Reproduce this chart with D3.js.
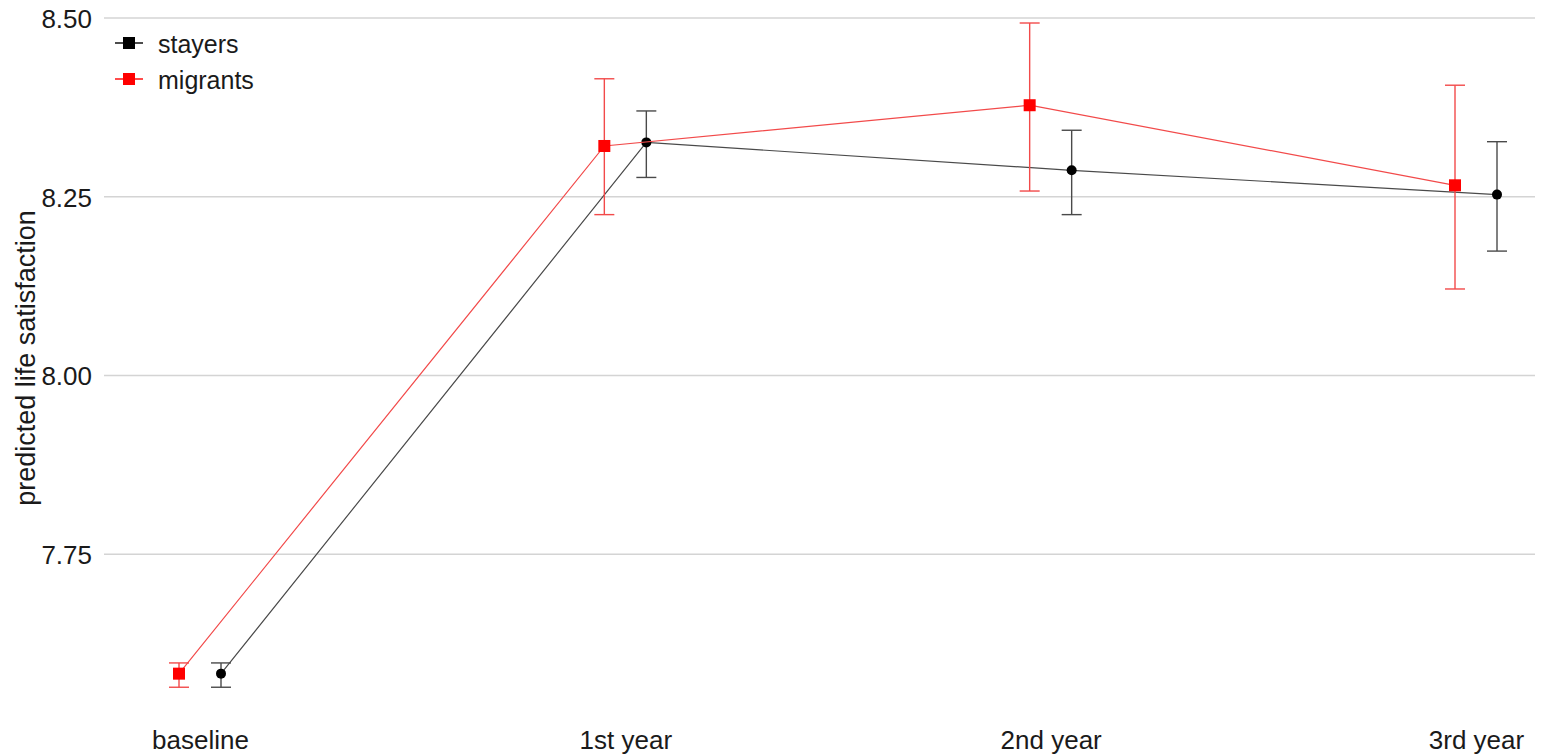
<!DOCTYPE html>
<html>
<head>
<meta charset="utf-8">
<script src="https://cdn.jsdelivr.net/npm/d3@7"></script>
<style>
  html, body { margin: 0; padding: 0; background: #fff; }
  svg { display: block; font-family: Arial, "Liberation Sans", sans-serif; }
</style>
</head>
<body>
<svg id="chart" width="1541" height="756"></svg>
<script>
// Waves of observation
const waves = ["baseline", "1st year", "2nd year", "3rd year"];

// Predicted life satisfaction with confidence bounds
const stayersFit   = [7.583, 8.326, 8.287, 8.253];
const stayersLow   = [7.564, 8.277, 8.225, 8.174];
const stayersHigh  = [7.598, 8.370, 8.343, 8.327];

const migrantsFit  = [7.583, 8.321, 8.378, 8.266];
const migrantsLow  = [7.564, 8.225, 8.258, 8.121];
const migrantsHigh = [7.598, 8.415, 8.493, 8.406];

const yTicks = [7.75, 8.00, 8.25, 8.50];

const groups = [
  { name: "stayers",  color: "#000000", lineColor: "#4a4a4a", shape: "circle", dodge: 21,
    fit: stayersFit, low: stayersLow, high: stayersHigh },
  { name: "migrants", color: "#ff0000", lineColor: "#f24a4a", shape: "square", dodge: -21,
    fit: migrantsFit, low: migrantsLow, high: migrantsHigh }
];

const textColor = "#1a1a1a";
const svg = d3.select("#chart");
const panel = { left: 104, right: 1535 };

const x = d3.scalePoint().domain(waves).range([200, 1476]);
const y = d3.scaleLinear().domain([7.5, 8.5]).range([733, 18]);

// horizontal grid
svg.append("g")
  .selectAll("line")
  .data(yTicks)
  .join("line")
  .attr("x1", panel.left).attr("x2", panel.right)
  .attr("y1", d => y(d)).attr("y2", d => y(d))
  .attr("stroke", "#d4d4d4").attr("stroke-width", 1.4);

// y axis tick labels
const yAxis = d3.axisLeft(y).tickValues(yTicks).tickFormat(d3.format(".2f")).tickSize(0).tickPadding(0);
const gy = svg.append("g").attr("transform", "translate(92,1)").call(yAxis);
gy.select(".domain").remove();
gy.selectAll("text").attr("font-size", 26).attr("fill", textColor)
  .attr("font-family", "Arial, 'Liberation Sans', sans-serif");

// x axis tick labels
const xAxis = d3.axisBottom(x).tickSize(0).tickPadding(0);
const gx = svg.append("g").attr("transform", "translate(0,731)").call(xAxis);
gx.select(".domain").remove();
gx.selectAll("text").attr("font-size", 26).attr("fill", textColor)
  .attr("font-family", "Arial, 'Liberation Sans', sans-serif");

// y axis title
svg.append("text")
  .attr("transform", "translate(35,358) rotate(-90)")
  .attr("text-anchor", "middle")
  .attr("font-size", 27)
  .attr("fill", textColor)
  .text("predicted life satisfaction");

// series
groups.forEach(g => {
  const pts = waves.map((w, i) => ({ w, fit: g.fit[i], low: g.low[i], high: g.high[i], px: x(w) + g.dodge }));
  const layer = svg.append("g");

  layer.append("path")
    .datum(pts)
    .attr("fill", "none")
    .attr("stroke", g.lineColor)
    .attr("stroke-width", 1.2)
    .attr("d", d3.line().x(d => d.px).y(d => y(d.fit)));

  const eb = layer.selectAll("g.eb").data(pts).join("g").attr("class", "eb");
  eb.append("line")
    .attr("x1", d => d.px).attr("x2", d => d.px)
    .attr("y1", d => y(d.low)).attr("y2", d => y(d.high))
    .attr("stroke", g.lineColor).attr("stroke-width", 1.4);
  ["low", "high"].forEach(k => {
    eb.append("line")
      .attr("x1", d => d.px - 10).attr("x2", d => d.px + 10)
      .attr("y1", d => y(d[k])).attr("y2", d => y(d[k]))
      .attr("stroke", g.lineColor).attr("stroke-width", 1.4);
  });

  if (g.shape === "square") {
    layer.selectAll("rect.pt").data(pts).join("rect").attr("class", "pt")
      .attr("x", d => d.px - 6).attr("y", d => y(d.fit) - 6)
      .attr("width", 12).attr("height", 12)
      .attr("fill", g.color);
  } else {
    layer.selectAll("circle.pt").data(pts).join("circle").attr("class", "pt")
      .attr("cx", d => d.px).attr("cy", d => y(d.fit))
      .attr("r", 5)
      .attr("fill", g.color);
  }
});

// legend
const legend = svg.append("g").attr("transform", "translate(115,43)");
groups.forEach((g, i) => {
  const row = legend.append("g").attr("transform", `translate(0,${i * 36})`);
  row.append("line").attr("x1", 0).attr("x2", 28).attr("y1", 0).attr("y2", 0)
    .attr("stroke", g.color).attr("stroke-width", 1.4);
  row.append("rect").attr("x", 8).attr("y", -6).attr("width", 12).attr("height", 12).attr("fill", g.color);
  row.append("text").attr("x", 43).attr("y", 1).attr("dy", "0.35em")
    .attr("font-size", 25).attr("fill", textColor).text(g.name);
});
</script>
</body>
</html>
